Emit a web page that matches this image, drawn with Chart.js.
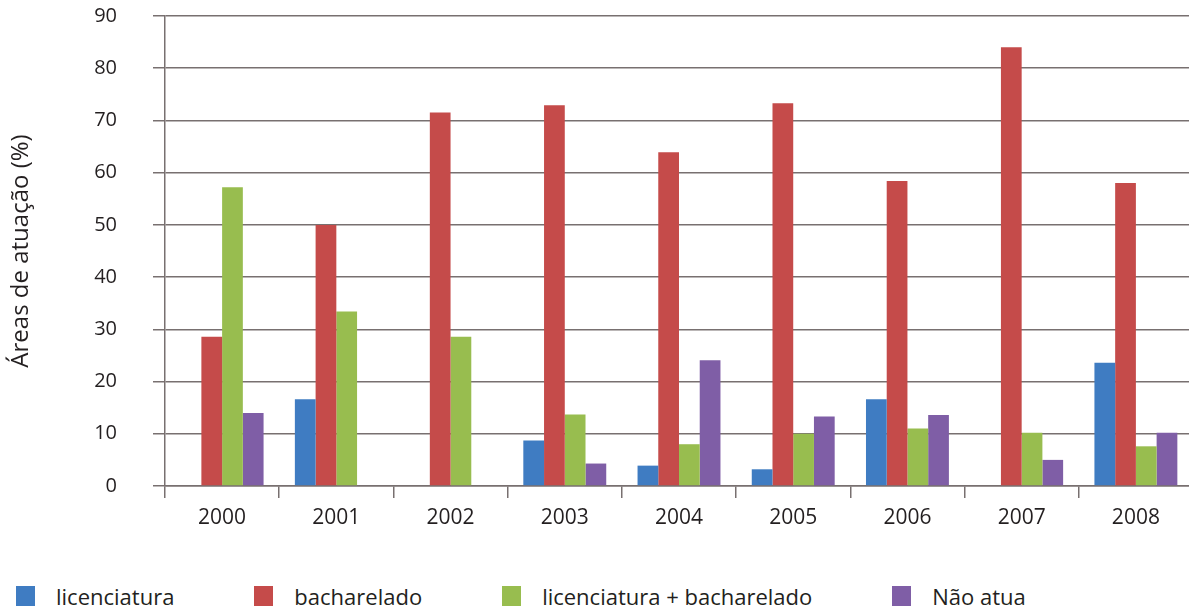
<!DOCTYPE html>
<html>
<head>
<meta charset="utf-8">
<title>Áreas de atuação</title>
<script src="https://cdn.jsdelivr.net/npm/chart.js@4/dist/chart.umd.min.js"></script>
<style>
  body { margin: 0; overflow: hidden; background: #fff; width: 1189px; height: 611px; position: relative; }
  #chart { position: absolute; left: 0; top: 0; }
  #legend { position: absolute; left: 16px; top: 584px; display: flex; gap: 80px;
            font: 22px "Open Sans", sans-serif; color: #231f20; white-space: nowrap; }
  .item { display: flex; align-items: center; height: 24px; }
  .box { width: 19px; height: 20px; margin-right: 21px; }
</style>
</head>
<body>
<canvas id="chart" width="1196" height="546"></canvas>
<div id="legend"></div>
<script>
// categories and values (%)
const years = ["2000", "2001", "2002", "2003", "2004", "2005", "2006", "2007", "2008"];
const licenciatura = [0, 16.6, 0, 8.7, 3.9, 3.2, 16.6, 0, 23.6];
const bacharelado = [28.6, 50.0, 71.5, 72.9, 63.9, 73.3, 58.4, 84.0, 58.0];
const licBach = [57.2, 33.4, 28.6, 13.7, 8.0, 10.0, 11.0, 10.2, 7.6];
const naoAtua = [14.0, 0, 0, 4.3, 24.1, 13.3, 13.6, 5.0, 10.2];

const seriesNames = ["licenciatura", "bacharelado", "licenciatura + bacharelado", "Não atua"];
const colors = ["#3f7cc2", "#c54b4a", "#98bd4f", "#7f5ea6"];

const gridColor = "#787070";
const textColor = "#231f20";

let ctx = document.getElementById("chart").getContext("2d");
let chart = new Chart(ctx, {
  type: "bar",
  data: {
    labels: years,
    datasets: [licenciatura, bacharelado, licBach, naoAtua].map(function (vals, i) {
      return {
        label: seriesNames[i],
        data: vals,
        backgroundColor: colors[i],
        borderWidth: 0,
        barPercentage: 1,
        categoryPercentage: 0.726,
      };
    }),
  },
  options: {
    responsive: false,
    animation: false,
    layout: {
      padding: { top: 16, right: 3, bottom: 0, left: 0 },
    },
    plugins: {
      legend: { display: false },
      tooltip: { enabled: false },
    },
    scales: {
      x: {
        grid: {
          offset: true,
          drawOnChartArea: false,
          drawTicks: true,
          tickLength: 12,
          color: gridColor,
          lineWidth: 1.5,
        },
        border: { color: gridColor, width: 1.5 },
        ticks: {
          color: textColor,
          padding: 7,
          font: { family: "Open Sans", size: 21 },
        },
        afterFit: function (scale) {
          scale.height = 60;
        },
      },
      y: {
        min: 0,
        max: 90,
        ticks: {
          stepSize: 10,
          color: textColor,
          padding: 36,
          font: { family: "Open Sans", size: 20 },
        },
        grid: {
          color: gridColor,
          lineWidth: 1.5,
          tickLength: 12,
        },
        border: { color: gridColor, width: 1.5 },
        title: {
          display: true,
          text: "Áreas de atuação (%)",
          color: textColor,
          padding: { top: 7, bottom: 0 },
          font: { family: "Open Sans", size: 24 },
        },
        afterFit: function (scale) {
          // fixed axis width; keep the label gap from pushing the plot down
          scale.width = 165;
          scale.paddingTop = 10;
          scale.paddingBottom = 10;
        },
      },
    },
  },
});

// legend built from the datasets
let legend = document.getElementById("legend");
chart.data.datasets.forEach(function (ds) {
  let item = document.createElement("div");
  item.className = "item";
  let box = document.createElement("span");
  box.className = "box";
  box.style.background = ds.backgroundColor;
  let txt = document.createElement("span");
  txt.textContent = ds.label;
  item.appendChild(box);
  item.appendChild(txt);
  legend.appendChild(item);
});
</script>
</body>
</html>
